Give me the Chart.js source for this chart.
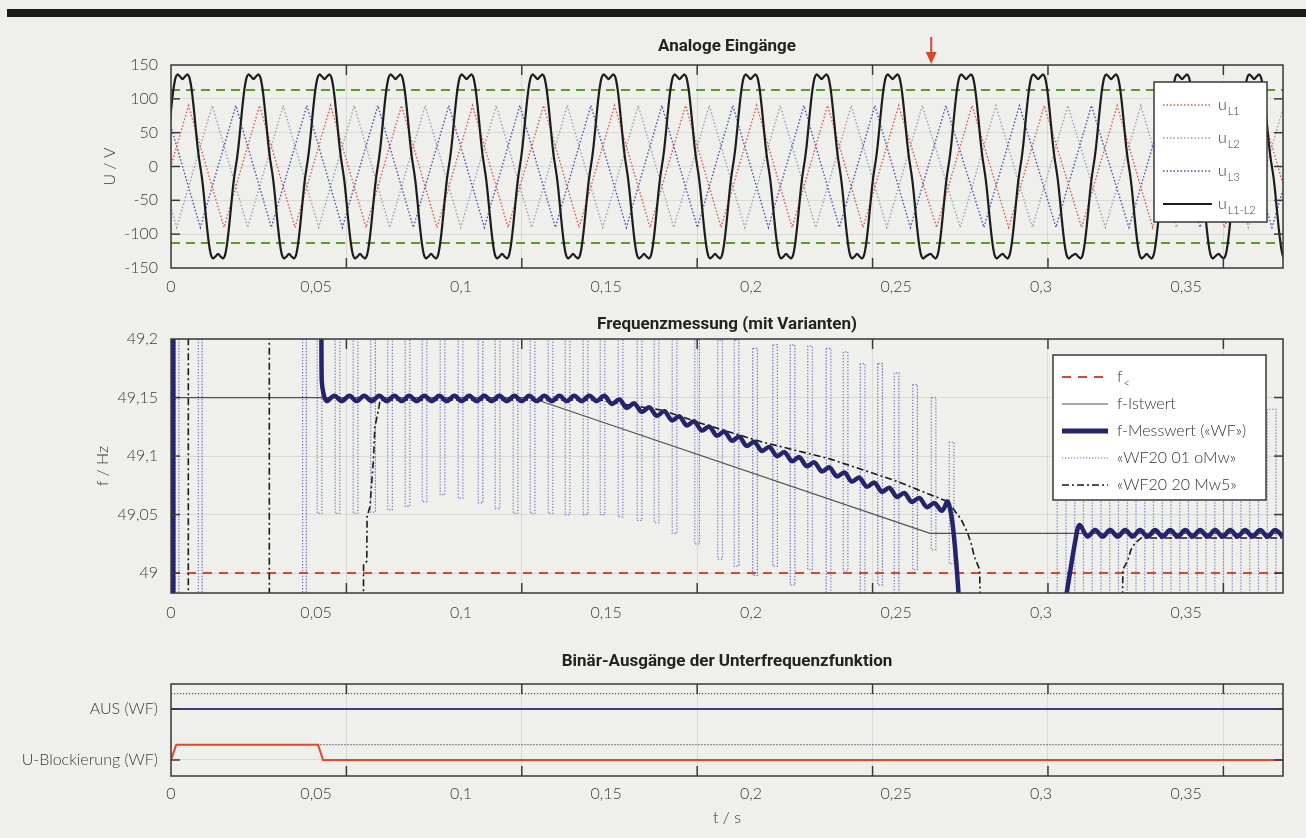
<!DOCTYPE html>
<html><head><meta charset="utf-8">
<script src="https://cdn.jsdelivr.net/npm/chart.js@4.4.1/dist/chart.umd.min.js"></script>
<style>
html,body{margin:0;padding:0;background:#efefec;width:1306px;height:838px;overflow:hidden;}
#bar{position:absolute;left:7px;top:9px;width:1299px;height:8px;background:#1c1c1c;}
canvas{position:absolute;left:0;}
</style></head><body>
<div id="bar"></div>
<canvas id="c1" width="1306" height="305" style="top:0px"></canvas>
<canvas id="c2" width="1306" height="320" style="top:305px"></canvas>
<canvas id="c3" width="1306" height="213" style="top:625px"></canvas>
<script>
// ---------- shared axis values ----------
const xMax = 0.3834;        // right end of the labelled time axis
const gridMax = 0.317;      // same right end in the units of the original tick grid
const xStep = 0.05;

// ---------- panel 1: Analoge Eingänge ----------
const uMin = -150, uMax = 150, uStep = 50;
const thresholdV = [113, -113];
const arrowT = 0.2621;
// centres of the positive plateaus of u_L1-L2
const ul12Centres = [0.00397, 0.02845, 0.05293, 0.07741, 0.10190, 0.12638, 0.15086, 0.17534, 0.19983, 0.22431, 0.24879, 0.27414, 0.29897, 0.32414, 0.34862, 0.37345];
// shape of one period of u_L1-L2 around a plateau centre
const ul12ShapeDt = [-0.01224, -0.01138, -0.01052, -0.00983, -0.00914, -0.00845, -0.00776, -0.00707, -0.00655, -0.00612, -0.00569, -0.00517, -0.00448, -0.00379, -0.00310, -0.00241, -0.00172, -0.00086, 0, 0.00086, 0.00172, 0.00241, 0.00310, 0.00379, 0.00448, 0.00517, 0.00569, 0.00612, 0.00655, 0.00707, 0.00776, 0.00845, 0.00914, 0.00983, 0.01052, 0.01138];
const ul12ShapeV = [-129, -133, -136, -131, -115, -90, -60, -30, -12, 0, 12, 30, 60, 90, 115, 131, 136, 133, 129, 133, 136, 131, 115, 90, 60, 30, 12, 0, -12, -30, -60, -90, -115, -131, -136, -133];
// phase voltage peaks
const phaseAmp = 90;
const halfPeriod = 0.01224;
const uL1Peaks = [0.00604, 0.03052, 0.05500, 0.07948, 0.10397, 0.12845, 0.15293, 0.17741, 0.20190, 0.22638, 0.25086, 0.27621, 0.30104, 0.32621, 0.35069, 0.37552];
const uL2Peaks = [-0.01027, 0.01421, 0.03869, 0.06317, 0.08765, 0.11214, 0.13662, 0.16110, 0.18558, 0.21007, 0.23455, 0.25903, 0.28438, 0.30921, 0.33438, 0.35886, 0.38369];
const uL3Peaks = [-0.00213, 0.02235, 0.04683, 0.07131, 0.09579, 0.12028, 0.14476, 0.16924, 0.19372, 0.21821, 0.24269, 0.26717, 0.29252, 0.31735, 0.34252, 0.36700, 0.39183];

// ---------- panel 2: Frequenzmessung ----------
const fMin = 48.983, fMax = 49.2;
const fTickVals = [49.0, 49.05, 49.1, 49.15, 49.2];
const fLimit = 49.0;
const fIstT = [0, 0.1238, 0.2617, 0.3834];
const fIstF = [49.15, 49.15, 49.034, 49.034];
const fMess0T = [0.0008, 0.0008];
const fMess0F = [48.9, 49.3];
const fMess1T = [0.05195, 0.05196, 0.0527,
  0.0537, 0.0563, 0.0589, 0.0615, 0.0640, 0.0666, 0.0692, 0.0718, 0.0744, 0.0770,
  0.0796, 0.0821, 0.0847, 0.0873, 0.0899, 0.0925, 0.0951, 0.0977, 0.1002, 0.1028,
  0.1054, 0.1080, 0.1106, 0.1132, 0.1158, 0.1184, 0.1209, 0.1235, 0.1261, 0.1287,
  0.1313, 0.1339, 0.1365, 0.1390, 0.1416, 0.1442, 0.1468, 0.1494, 0.1520, 0.1546,
  0.1571, 0.1597, 0.1623, 0.1649, 0.1675, 0.1701, 0.1727, 0.1753, 0.1778, 0.1804,
  0.1830, 0.1856, 0.1882, 0.1908, 0.1934, 0.1959, 0.1985, 0.2011, 0.2037, 0.2063,
  0.2089, 0.2115, 0.2141, 0.2166, 0.2192, 0.2218, 0.2244, 0.2270, 0.2296, 0.2322,
  0.2347, 0.2373, 0.2399, 0.2425, 0.2451, 0.2477, 0.2503, 0.2528, 0.2554, 0.2580,
  0.2606, 0.2632, 0.2658,
  0.2678, 0.2698, 0.2722];
const fMess1F = [49.25, 49.165, 49.152,
  49.147, 49.1515, 49.147, 49.1515, 49.147, 49.1515, 49.147, 49.1515, 49.147, 49.1515,
  49.147, 49.1515, 49.147, 49.1515, 49.147, 49.1515, 49.147, 49.1515, 49.147, 49.1515,
  49.147, 49.1515, 49.147, 49.1515, 49.147, 49.1515, 49.147, 49.1515, 49.147, 49.1515,
  49.147, 49.1515, 49.147, 49.1515, 49.147, 49.1515, 49.147, 49.1515,
  49.1445, 49.1484, 49.1411, 49.1450, 49.1377, 49.1416, 49.1344, 49.1383, 49.1305, 49.1339,
  49.1262, 49.1296, 49.1218, 49.1252, 49.1174, 49.1209, 49.1131, 49.1165, 49.1087, 49.1121,
  49.1044, 49.1078, 49.1000, 49.1034, 49.0956, 49.0991, 49.0913, 49.0947, 49.0869, 49.0903,
  49.0826, 49.0860, 49.0782, 49.0816, 49.0738, 49.0773, 49.0695, 49.0729, 49.0651, 49.0685,
  49.0608, 49.0642, 49.0564, 49.0598, 49.0532,
  49.0610, 49.035, 48.96];
const fMess2T = [0.3083, 0.3124, 0.3134, 0.3160, 0.3186, 0.3212, 0.3238, 0.3264, 0.3290, 0.3316,
  0.3341, 0.3367, 0.3393, 0.3419, 0.3445, 0.3471, 0.3497, 0.3522, 0.3548, 0.3574, 0.3600,
  0.3626, 0.3652, 0.3678, 0.3703, 0.3729, 0.3755, 0.3781, 0.3807, 0.3833];
const fMess2F = [48.975, 49.036, 49.041, 49.0312, 49.0368, 49.0312, 49.0368, 49.0312, 49.0368, 49.0312,
  49.0368, 49.0312, 49.0368, 49.0312, 49.0368, 49.0312, 49.0368, 49.0312, 49.0368, 49.0312, 49.0368,
  49.0312, 49.0368, 49.0312, 49.0368, 49.0312, 49.0368, 49.0312, 49.0368, 49.0312];
// «WF20 20 Mw5»
const wf20T = [0.00597, 0.00597, 0.0339, 0.0339, 0.0662, 0.0664, 0.0675, 0.0676, 0.0686, 0.0698, 0.0703, 0.0715, 0.0721,
  0.1479, 0.1517, 0.1697, 0.1814, 0.2038, 0.2266, 0.2497, 0.2679, 0.2724, 0.2747, 0.2759, 0.2770, 0.2788, 0.2795,
  0.3276, 0.3282, 0.3299, 0.3310, 0.3322, 0.3345, 0.3834];
const wf20F = [48.9, 49.3, 49.3, 48.9, 48.9, 49.008, 49.010, 49.048, 49.057, 49.097, 49.125, 49.139, 49.148,
  49.148, 49.146, 49.139, 49.129, 49.112, 49.098, 49.079, 49.061, 49.046, 49.034, 49.025, 49.014, 49.003, 48.9,
  48.9, 49.003, 49.011, 49.020, 49.025, 49.030, 49.030];
// «WF20 01 oMw» – narrow pulses
const wf01ACentres = [0.00207, 0.01008, 0.04603];
const wf01AWidth = 0.0013, wf01ATop = 49.3, wf01ABottom = 48.9;
const wf01BCentres = [0.05121, 0.05741, 0.06362, 0.06966, 0.07552, 0.08155, 0.08741, 0.09362, 0.09983, 0.10672,
  0.11259, 0.11879, 0.12466, 0.13086, 0.13672, 0.14293, 0.14879, 0.15500, 0.16155, 0.16741, 0.17362, 0.18138,
  0.18931, 0.19500, 0.20138, 0.20828, 0.21431, 0.22034, 0.22672, 0.23259, 0.23845, 0.24448, 0.25017, 0.25655,
  0.26293, 0.26914];
const wf01BWidth = 0.0016;
const wf01BTops = [49.25, 49.25, 49.25, 49.25, 49.25, 49.25, 49.25, 49.25, 49.25, 49.25, 49.25, 49.25, 49.25,
  49.25, 49.25, 49.25, 49.25, 49.25, 49.25, 49.25, 49.25, 49.199, 49.199, 49.199, 49.192, 49.195, 49.195, 49.194,
  49.192, 49.189, 49.179, 49.179, 49.171, 49.161, 49.150, 49.112];
const wf01BBottoms = [49.051, 49.051, 49.051, 49.052, 49.054, 49.057, 49.061, 49.067, 49.064, 49.060, 49.055, 49.051,
  49.051, 49.051, 49.050, 49.050, 49.050, 49.048, 49.045, 49.043, 49.034, 49.025, 49.012, 49.006, 48.998, 49.006,
  48.990, 49.003, 48.970, 49.002, 48.970, 48.990, 48.970, 49.003, 49.020, 49.008];
const wf01CCentres = [0.30707, 0.31310, 0.31914, 0.32517, 0.33121, 0.33724, 0.34328, 0.34931, 0.35534, 0.36138, 0.36741, 0.37345, 0.37948];
const wf01CWidth = 0.0030, wf01CTop = 49.14, wf01CBottom = 48.95;

// ---------- panel 3: Binär-Ausgänge ----------
const binMin = -0.314, binMax = 1.49;
const binLevels = [0, 1];
const binLabels = ['U-Blockierung (WF)', 'AUS (WF)'];
const ausT = [0, xMax], ausV = [1, 1];
const ausRefT = [0, xMax], ausRefV = [1.3, 1.3];
const ublT = [0, 0.0018, 0.0507, 0.0524, xMax], ublV = [0, 0.3, 0.3, 0, 0];
const ublRefT = [0.0515, xMax], ublRefV = [0.3, 0.3];

// ---------- styles ----------
const S = {
  uL1: {color: '#e0574c', width: 1.4, dash: [1.5, 2]},
  uL2: {color: '#9c9cbc', width: 1.4, dash: [1.5, 2]},
  uL3: {color: '#4c4cae', width: 1.4, dash: [1.5, 2]},
  uL12: {color: '#1c1c1c', width: 2.2, dash: []},
  thr: {color: '#5d9b2d', width: 2, dash: [9, 6]},
  fLim: {color: '#d8462f', width: 2, dash: [9, 7]},
  fIst: {color: '#505050', width: 1.2, dash: []},
  fMess: {color: '#24246c', width: 4.5, dash: []},
  wf01: {color: '#7272c4', width: 1.2, dash: [1.3, 1.7]},
  wf20: {color: '#1a1a1a', width: 1.6, dash: [7, 3, 2, 3]},
  aus: {color: '#3b3b8e', width: 2, dash: []},
  ref: {color: '#555555', width: 1.2, dash: [1.2, 1.8]},
  ubl: {color: '#e2482c', width: 2, dash: []}
};
const tickFont = {family: 'Lato', size: 16, weight: '300'};
const titleFont = {family: 'Roboto', size: 17, weight: 'bold'};
const gridColor = '#d9d9d9';
const frameColor = '#3a3a3a';

// ---------- builders ----------
const xy = (ts, vs) => ts.map((t, i) => ({x: t, y: vs[i]}));
function buildUl12() {
  const pts = [];
  ul12Centres.forEach(c => ul12ShapeDt.forEach((dt, i) => pts.push({x: c + dt, y: ul12ShapeV[i]})));
  return pts;
}
function buildPhase(peaks) {
  const pts = [];
  peaks.forEach(p => { pts.push({x: p - halfPeriod, y: -phaseAmp}); pts.push({x: p, y: phaseAmp}); });
  pts.push({x: peaks[peaks.length - 1] + halfPeriod, y: -phaseAmp});
  return pts;
}
function buildPulses(centres, width, tops, bottoms) {
  const pts = [];
  centres.forEach((c, i) => {
    const top = Array.isArray(tops) ? tops[i] : tops;
    const bot = Array.isArray(bottoms) ? bottoms[i] : bottoms;
    const l = c - width / 2, r = c + width / 2;
    pts.push({x: l, y: top}, {x: l, y: bot}, {x: r, y: bot}, {x: r, y: top}, {x: l, y: top}, {x: r, y: null});
  });
  return pts;
}
function ds(data, st, extra) {
  return Object.assign({data, borderColor: st.color, borderWidth: st.width, borderDash: st.dash,
    pointRadius: 0, fill: false, tension: 0, clip: 0, spanGaps: false, xAxisID: 'x', yAxisID: 'y'}, extra || {});
}
const fmt = v => String(Math.round(v * 1000) / 1000).replace('.', ',');

// ---------- decorations plugin (frame, inward ticks, legends, arrow) ----------
const legendCfg = {
  c1: {right: 16, top: 17, width: 113, height: 140, firstRow: 23, rowGap: 33, sample: [9, 58], textX: 64,
       items: [{text: 'u', sub: 'L1', s: S.uL1}, {text: 'u', sub: 'L2', s: S.uL2}, {text: 'u', sub: 'L3', s: S.uL3}, {text: 'u', sub: 'L1-L2', s: S.uL12}]},
  c2: {right: 17, top: 16, width: 213, height: 145, firstRow: 22, rowGap: 27, sample: [9, 55], textX: 64,
       items: [{text: 'f', sub: '<', s: S.fLim}, {text: 'f-Istwert', s: S.fIst}, {text: 'f-Messwert (\u00abWF\u00bb)', s: {color: S.fMess.color, width: 5, dash: []}},
               {text: '\u00abWF20 01 oMw\u00bb', s: S.wf01}, {text: '\u00abWF20 20 Mw5\u00bb', s: S.wf20}]}
};
const deco = {
  id: 'deco',
  afterDatasetsDraw(chart) {
    const ctx = chart.ctx, a = chart.chartArea;
    const line = (x1, y1, x2, y2) => { ctx.beginPath(); ctx.moveTo(x1, y1); ctx.lineTo(x2, y2); ctx.stroke(); };
    ctx.save();
    ctx.strokeStyle = frameColor; ctx.lineWidth = 1.5; ctx.setLineDash([]);
    const xs = chart.scales.xg;
    xs.ticks.forEach(t => {
      const px = xs.getPixelForValue(t.value);
      if (px <= a.left + 2 || px >= a.right - 2) return;
      line(px, a.top, px, a.top + 10); line(px, a.bottom, px, a.bottom - 10);
    });
    const ys = chart.scales.y;
    ys.ticks.forEach(t => {
      const py = ys.getPixelForValue(t.value);
      if (py <= a.top + 2 || py >= a.bottom - 2) return;
      line(a.left, py, a.left + 9, py); line(a.right, py, a.right - 9, py);
    });
    ctx.strokeRect(a.left, a.top, a.right - a.left, a.bottom - a.top);
    const L = legendCfg[chart.canvas.id];
    if (L) {
      const bx = a.right - L.right - L.width, by = a.top + L.top;
      ctx.fillStyle = '#ffffff'; ctx.fillRect(bx, by, L.width, L.height);
      ctx.strokeStyle = frameColor; ctx.lineWidth = 1.5; ctx.strokeRect(bx, by, L.width, L.height);
      L.items.forEach((it, i) => {
        const y = by + L.firstRow + i * L.rowGap;
        ctx.strokeStyle = it.s.color; ctx.lineWidth = it.s.width; ctx.setLineDash(it.s.dash);
        line(bx + L.sample[0], y, bx + L.sample[1], y);
        ctx.setLineDash([]);
        ctx.fillStyle = '#333'; ctx.textBaseline = 'middle'; ctx.textAlign = 'left';
        ctx.font = '300 16px Lato';
        ctx.fillText(it.text, bx + L.textX, y);
        if (it.sub) {
          const w = ctx.measureText(it.text).width;
          ctx.font = '300 11px Lato';
          ctx.fillText(it.sub, bx + L.textX + w + 1, y + 6);
        }
      });
    }
    if (chart.canvas.id === 'c1') {
      const px = chart.scales.x.getPixelForValue(arrowT);
      ctx.strokeStyle = '#d5482a'; ctx.fillStyle = '#d5482a'; ctx.lineWidth = 2;
      line(px, a.top - 28, px, a.top - 10);
      ctx.beginPath(); ctx.moveTo(px - 5.5, a.top - 13); ctx.lineTo(px + 5.5, a.top - 13); ctx.lineTo(px, a.top - 1); ctx.closePath(); ctx.fill();
    }
    ctx.restore();
  }
};

function baseOptions(cfg) {
  return {
    responsive: false, animation: false, events: [],
    layout: {padding: {top: cfg.padTop, right: 23, left: 0, bottom: 0}},
    plugins: {
      legend: {display: false}, tooltip: {enabled: false},
      title: {display: true, text: cfg.title, font: titleFont, color: '#222', fullSize: false, padding: {top: 0, bottom: cfg.titlePad}}
    },
    scales: {
      x: {type: 'linear', position: 'bottom', min: 0, max: xMax, bounds: 'data',
          grid: {display: false}, border: {display: false},
          ticks: {stepSize: xStep, includeBounds: false, autoSkip: false, maxRotation: 0, padding: cfg.xPad, color: '#3a3a3a', font: tickFont, callback: v => fmt(v)},
          title: cfg.xTitle ? {display: true, text: cfg.xTitle, font: tickFont, color: '#333', padding: {top: 0, bottom: cfg.xTitlePad}} : {display: false},
          afterFit: s => { s.height = cfg.xHeight; }},
      xg: {type: 'linear', position: 'bottom', min: 0, max: gridMax, bounds: 'data',
           ticks: {display: false, stepSize: xStep}, grid: {color: gridColor, drawTicks: false, lineWidth: 1}, border: {display: false},
           afterFit: s => { s.height = 0; }},
      y: Object.assign({type: 'linear', position: 'left', min: cfg.yMin, max: cfg.yMax, bounds: 'data',
          grid: {color: gridColor, drawTicks: false, lineWidth: 1}, border: {display: false},
          ticks: Object.assign({padding: 13, color: '#3a3a3a', font: tickFont, autoSkip: false}, cfg.yTicks),
          title: cfg.yTitle ? {display: true, text: cfg.yTitle, font: tickFont, color: '#333', padding: {top: cfg.yTitlePad, bottom: 0}} : {display: false},
          afterFit: s => { s.width = 171; }}, cfg.yExtra || {})
    }
  };
}

new Chart(document.getElementById('c1'), {
  type: 'line',
  data: {datasets: [
    ds(buildUl12(), S.uL12, {tension: 0.3}),
    ds(xy([0, xMax], [thresholdV[0], thresholdV[0]]), S.thr),
    ds(xy([0, xMax], [thresholdV[1], thresholdV[1]]), S.thr),
    ds(buildPhase(uL1Peaks), S.uL1),
    ds(buildPhase(uL3Peaks), S.uL3),
    ds(buildPhase(uL2Peaks), S.uL2)
  ]},
  options: baseOptions({padTop: 36.8, title: 'Analoge Eingänge', titlePad: 7.8, xPad: 1, xHeight: 37,
    yMin: uMin, yMax: uMax, yTicks: {stepSize: uStep, callback: v => fmt(v)}, yTitle: 'U / V', yTitlePad: 100}),
  plugins: [deco]
});

new Chart(document.getElementById('c2'), {
  type: 'line',
  data: {datasets: [
    ds(xy(fMess0T, fMess0F), S.fMess),
    ds(xy(fMess1T, fMess1F), S.fMess, {tension: 0.35}),
    ds(xy(fMess2T, fMess2F), S.fMess, {tension: 0.35}),
    ds(xy(wf20T, wf20F), S.wf20),
    ds(xy(fIstT, fIstF), S.fIst),
    ds(xy([0, xMax], [fLimit, fLimit]), S.fLim),
    ds(buildPulses(wf01ACentres, wf01AWidth, wf01ATop, wf01ABottom), S.wf01),
    ds(buildPulses(wf01BCentres, wf01BWidth, wf01BTops, wf01BBottoms), S.wf01),
    ds(buildPulses(wf01CCentres, wf01CWidth, wf01CTop, wf01CBottom), S.wf01)
  ]},
  options: baseOptions({padTop: 9.8, title: 'Frequenzmessung (mit Varianten)', titlePad: 3.8, xPad: 2, xHeight: 32,
    yMin: fMin, yMax: fMax, yTicks: {callback: v => fmt(v)}, yTitle: 'f / Hz', yTitlePad: 93,
    yExtra: {afterBuildTicks: s => { s.ticks = fTickVals.map(v => ({value: v})); }}}),
  plugins: [deco]
});

new Chart(document.getElementById('c3'), {
  type: 'line',
  data: {datasets: [
    ds(xy(ublT, ublV), S.ubl),
    ds(xy(ausT, ausV), S.aus),
    ds(xy(ausRefT, ausRefV), S.ref),
    ds(xy(ublRefT, ublRefV), S.ref)
  ]},
  options: baseOptions({padTop: 26.8, title: 'Binär-Ausgänge der Unterfrequenzfunktion', titlePad: 11.8, xPad: 0, xHeight: 62,
    xTitle: 't / s', xTitlePad: 10.4,
    yMin: binMin, yMax: binMax, yTicks: {callback: v => binLabels[binLevels.indexOf(v)]},
    yExtra: {afterBuildTicks: s => { s.ticks = binLevels.map(v => ({value: v})); }}}),
  plugins: [deco]
});
</script>
</body></html>
